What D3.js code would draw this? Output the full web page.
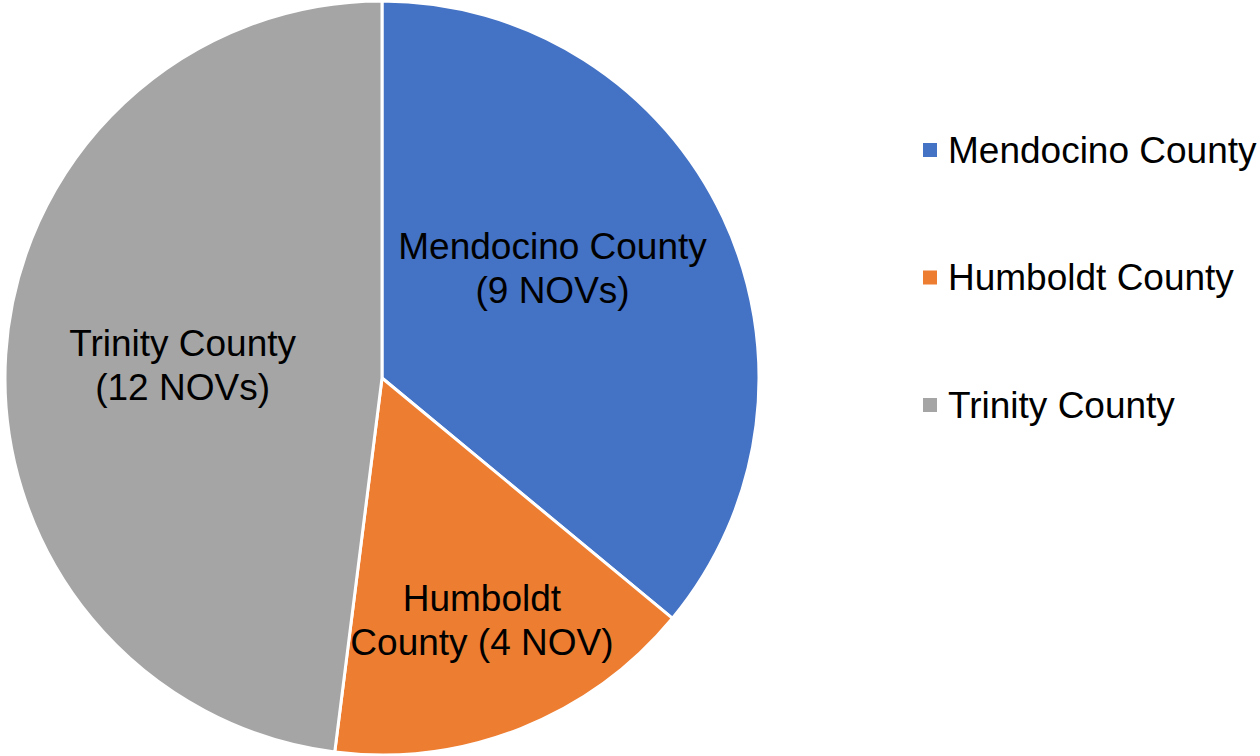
<!DOCTYPE html>
<html>
  <head>
    <meta charset="utf-8">
    <title>NOVs by county</title>
    <script type="text/javascript" src="https://d3js.org/d3.v7.min.js"></script>
    <style type="text/css">
      body { margin: 0; background: #fff; }
      text { font-family: "Liberation Sans", Arial, sans-serif; fill: #000; }
    </style>
  </head>
  <body>
    <script type="text/javascript">

      // Data
      var counties = ["Mendocino County", "Humboldt County", "Trinity County"];
      var novs = [9, 4, 12];
      var labels = [["Mendocino County", "(9 NOVs)"], ["Humboldt", "County (4 NOV)"], ["Trinity County", "(12 NOVs)"]];
      var colors = ["#4472C4", "#ED7D31", "#A5A5A5"];

      // Width and height
      var w = 1260;
      var h = 756;
      var cx = 382, cy = 378, r = 377;
      var fontSize = "37px";

      var svg = d3.select("body")
        .append("svg")
        .attr("width", w)
        .attr("height", h);

      var pie = d3.pie().sort(null).value(function(d){ return d; });
      var arcs = pie(novs);

      var arc = d3.arc().innerRadius(0).outerRadius(r);

      var g = svg.append("g").attr("transform", "translate(" + cx + "," + cy + ")");

      g.selectAll("path")
        .data(arcs)
        .enter()
        .append("path")
        .attr("d", arc)
        .attr("fill", function(d, i){ return colors[i]; })
        .attr("stroke", "#fff")
        .attr("stroke-width", 3)
        .attr("stroke-linejoin", "round");

      // label placement tweaks (fraction of radius, extra y shift)
      var labelPos = [[0.5, -30], [0.72, -10], [0.53, 0]];

      g.selectAll("text.lbl")
        .data(arcs)
        .enter()
        .append("text")
        .attr("class", "lbl")
        .attr("font-size", fontSize)
        .attr("text-anchor", "middle")
        .each(function(d, i){
          var rr = r * labelPos[i][0];
          var c = d3.arc().innerRadius(rr).outerRadius(rr).centroid(d);
          var t = d3.select(this);
          labels[i].forEach(function(line, k){
            t.append("tspan")
              .attr("x", c[0])
              .attr("y", c[1] + labelPos[i][1] + (k - 0.5) * 44)
              .attr("dy", "0.35em")
              .text(line);
          });
        });

      // Legend
      var legendY = d3.scalePoint().domain(counties).range([150, 405]);

      var leg = svg.selectAll("g.legend")
        .data(counties)
        .enter()
        .append("g")
        .attr("class", "legend")
        .attr("transform", function(d){ return "translate(923," + legendY(d) + ")"; });

      leg.append("rect")
        .attr("x", 0)
        .attr("y", -7)
        .attr("width", 14)
        .attr("height", 14)
        .attr("fill", function(d, i){ return colors[i]; });

      leg.append("text")
        .attr("x", 25)
        .attr("y", 0)
        .attr("dy", "0.35em")
        .attr("font-size", fontSize)
        .text(function(d){ return d; });
    </script>
  </body>
</html>
